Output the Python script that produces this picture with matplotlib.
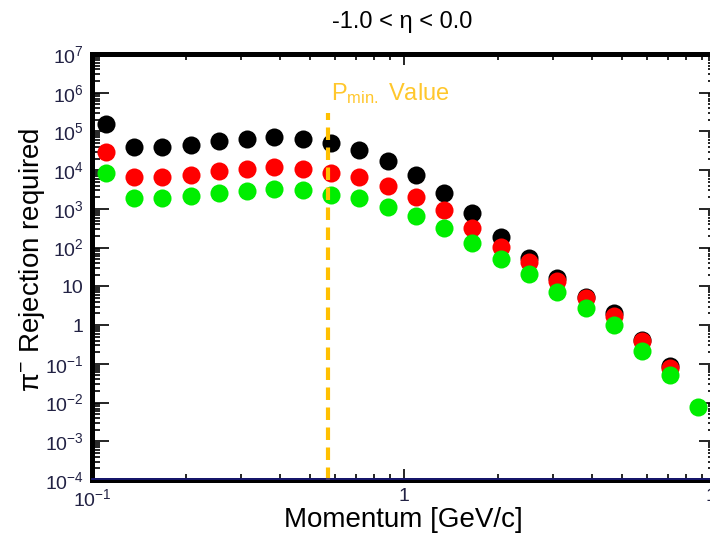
import numpy as np
import matplotlib
matplotlib.use("Agg")
import matplotlib.pyplot as plt
from matplotlib.ticker import LogLocator, FixedLocator, FuncFormatter, NullFormatter

plt.rcParams["font.family"] = ["Liberation Sans", "DejaVu Sans"]
plt.rcParams["mathtext.fontset"] = "custom"
plt.rcParams["mathtext.rm"] = "Liberation Sans"
plt.rcParams["mathtext.it"] = "Liberation Sans:italic"

# ---------- data ----------
momentum = [0.111, 0.136, 0.168, 0.207, 0.255, 0.314, 0.384, 0.476, 0.582, 0.718,
            0.886, 1.093, 1.348, 1.654, 2.04, 2.52, 3.10, 3.82, 4.71, 5.78, 7.13, 8.75]

rej_black = [1.6e5, 3.9e4, 3.9e4, 4.5e4, 5.6e4, 6.3e4, 7.1e4, 6.3e4, 4.9e4, 3.3e4,
             1.7e4, 7.4e3, 2.6e3, 790, 190, 55, 16, 5.4, 2.0, 0.42, 0.089]
rej_red = [3.0e4, 6.5e3, 6.5e3, 7.4e3, 9.5e3, 1.07e4, 1.23e4, 1.07e4, 8.7e3, 6.5e3,
           3.9e3, 2.0e3, 930, 330, 105, 42, 13.5, 4.9, 1.74, 0.38, 0.079]
rej_green = [8.5e3, 1.86e3, 1.86e3, 2.1e3, 2.6e3, 2.9e3, 3.2e3, 3.1e3, 2.3e3, 1.86e3,
             1.12e3, 660, 316, 132, 52, 21, 7.2, 2.8, 1.0, 0.21, 0.051, 0.0079]

p_min = 0.57
title = "-1.0 < η < 0.0"

# ---------- figure ----------
fig = plt.figure(figsize=(7.10, 5.35), dpi=100)
ax = fig.add_axes([92 / 710, 1 - 480 / 535, (716 - 92) / 710, (480 - 54) / 535])

ms = 13
ax.plot(momentum[:len(rej_black)], rej_black, "o", color="black", ms=ms, mec="none", zorder=3)
ax.plot(momentum[:len(rej_red)], rej_red, "o", color="#ff0000", ms=ms, mec="none", zorder=4)
ax.plot(momentum[:len(rej_green)], rej_green, "o", color="#00ee00", ms=ms, mec="none", zorder=5)

ax.set_xscale("log")
ax.set_yscale("log")
ax.set_xlim(0.1, 10)
ax.set_ylim(1e-4, 1e7)

# P_min marker
ymax_frac = (np.log10(3.0e5) + 4) / 11
ax.axvline(p_min, ymin=0, ymax=ymax_frac, color="#ffc000", lw=3, ls=(0, (3, 1.8)), zorder=6)
ax.text(p_min * 1.025, 6.5e5, r"P$_{\mathregular{min.}}$ Value", color="#ffc72c",
        fontsize=17, ha="left", va="baseline")

# ticks, ROOT style
tick_col = "#222244"
ax.yaxis.set_major_locator(FixedLocator([10.0 ** k for k in range(-4, 8)]))
ax.yaxis.set_minor_locator(LogLocator(base=10, subs=np.arange(2, 10), numticks=20))
ax.xaxis.set_major_locator(FixedLocator([0.1, 1, 10]))
ax.xaxis.set_minor_locator(LogLocator(base=10, subs=np.arange(2, 10), numticks=20))
ax.yaxis.set_minor_formatter(NullFormatter())
ax.xaxis.set_minor_formatter(NullFormatter())


def log_fmt(v, pos):
    k = int(round(np.log10(v)))
    if k == 0:
        return "1"
    if k == 1:
        return "10"
    return r"$10^{%d}$" % k


ax.yaxis.set_major_formatter(FuncFormatter(log_fmt))
ax.xaxis.set_major_formatter(FuncFormatter(log_fmt))

ax.tick_params(axis="y", which="major", direction="in", length=12, width=1.2,
               left=True, right=True, labelsize=14, labelcolor=tick_col, pad=6)
ax.tick_params(axis="y", which="minor", direction="in", length=6, width=1.2,
               left=True, right=True)
ax.tick_params(axis="x", which="major", direction="in", length=8, width=1.2,
               bottom=True, top=True, labelsize=14, labelcolor=tick_col, pad=6)
ax.tick_params(axis="x", which="minor", direction="in", length=4, width=1.2,
               bottom=True, top=True)

for s in ax.spines.values():
    s.set_linewidth(3.6)
    s.set_color("black")
ax.axhline(1e-4 * 1.06, color="#1a1a80", lw=1.2, zorder=7, clip_on=False)

fig.text(402 / 710, 1 - 22 / 535, title, fontsize=17, ha="center", va="center")
fig.text(403 / 710, 1 - 520 / 535, "Momentum [GeV/c]", fontsize=20, ha="center", va="center")
fig.text(32 / 710, 1 - 260 / 535, "π$^{-}$ Rejection required", fontsize=20,
         rotation=90, ha="center", va="center")

fig.savefig("out.png", dpi=100, facecolor="white")
